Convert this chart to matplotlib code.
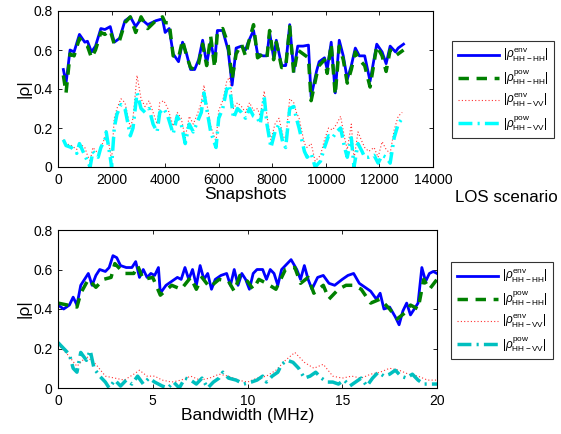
import matplotlib
matplotlib.use("Agg")
import matplotlib.pyplot as plt

plt.rcParams['font.family'] = ['Liberation Sans', 'DejaVu Sans']
plt.rcParams['mathtext.fontset'] = 'custom'
plt.rcParams['mathtext.rm'] = 'Liberation Sans'
plt.rcParams['mathtext.it'] = 'Liberation Sans:italic'

# ---------------- Top panel data (LOS, snapshots) ----------------
top_x = [200, 300, 450, 600, 800, 1000, 1100, 1250, 1400, 1600, 1750, 1950, 2100, 2300, 2500,
         2700, 2900, 3100, 3350, 3650, 3900, 4000, 4150, 4300, 4500, 4650, 4800, 4950, 5100,
         5250, 5400, 5550, 5700, 5850, 5950, 6150, 6350, 6500, 6650, 6850, 7000, 7100, 7300,
         7450, 7650, 7800, 7900, 8050, 8150, 8350, 8500, 8650, 8800, 8950, 9150, 9350, 9450,
         9650, 9750, 9950, 10050, 10200, 10350, 10500, 10650, 10800, 10950, 11100, 11250,
         11450, 11650, 11900, 12100, 12250, 12400, 12600, 12700, 12900]
top_env_hh = [0.50, 0.43, 0.60, 0.59, 0.68, 0.64, 0.645, 0.59, 0.62, 0.71, 0.705, 0.72, 0.64, 0.66, 0.75,
              0.77, 0.72, 0.76, 0.73, 0.75, 0.76, 0.69, 0.71, 0.58, 0.54, 0.64, 0.58, 0.50, 0.50,
              0.55, 0.65, 0.53, 0.64, 0.54, 0.70, 0.70, 0.60, 0.42, 0.61, 0.62, 0.60, 0.64, 0.70,
              0.58, 0.57, 0.57, 0.69, 0.56, 0.65, 0.52, 0.52, 0.73, 0.49, 0.62, 0.62, 0.625, 0.36,
              0.49, 0.54, 0.56, 0.50, 0.64, 0.38, 0.65, 0.57, 0.45, 0.52, 0.61, 0.57,
              0.57, 0.44, 0.63, 0.59, 0.53, 0.62, 0.59, 0.61, 0.63]
top_pow_hh = [0.47, 0.38, 0.58, 0.57, 0.66, 0.63, 0.62, 0.56, 0.60, 0.69, 0.68, 0.70, 0.63, 0.65, 0.74,
              0.77, 0.69, 0.77, 0.71, 0.75, 0.77, 0.74, 0.74, 0.57, 0.56, 0.65, 0.57, 0.51, 0.50,
              0.53, 0.63, 0.52, 0.67, 0.51, 0.69, 0.71, 0.63, 0.45, 0.58, 0.63, 0.57, 0.63, 0.73,
              0.56, 0.58, 0.56, 0.70, 0.55, 0.64, 0.51, 0.51, 0.72, 0.48, 0.60, 0.58, 0.56, 0.34,
              0.47, 0.52, 0.55, 0.48, 0.63, 0.37, 0.62, 0.55, 0.43, 0.50, 0.59, 0.55,
              0.52, 0.41, 0.62, 0.57, 0.49, 0.60, 0.57, 0.58, 0.60]

top_xv = [200, 300, 500, 700, 800, 1000, 1100, 1200, 1300, 1500, 1600, 1750, 1800, 1950, 2000,
          2100, 2200, 2350, 2500, 2700, 2800, 2950, 3100, 3250, 3400, 3550, 3700, 3800, 3950,
          4100, 4300, 4450, 4600, 4750, 4900, 5050, 5200, 5350, 5450, 5550, 5700, 5900, 6000,
          6150, 6300, 6400, 6550, 6700, 6850, 7000, 7150, 7300, 7450, 7550, 7700, 7800, 7950,
          8100, 8250, 8400, 8500, 8650, 8800, 8900, 9000, 9200, 9300, 9450, 9600, 9800, 9950,
          10100, 10250, 10400, 10550, 10700, 10800, 10950, 11050, 11200, 11350, 11450, 11600,
          11800, 11950, 12100, 12250, 12400, 12550, 12700, 12850]
top_env_hv = [0.14, 0.12, 0.11, 0.09, 0.12, 0.10, 0.06, 0.03, 0.10, 0.07, 0.10, 0.15, 0.19, 0.08, 0.03,
              0.25, 0.30, 0.35, 0.33, 0.20, 0.25, 0.47, 0.35, 0.31, 0.34, 0.28, 0.22, 0.33, 0.34,
              0.30, 0.21, 0.28, 0.25, 0.15, 0.26, 0.22, 0.27, 0.33, 0.42, 0.33, 0.21, 0.13, 0.29,
              0.34, 0.44, 0.46, 0.30, 0.33, 0.31, 0.28, 0.33, 0.29, 0.30, 0.26, 0.39, 0.26, 0.14,
              0.22, 0.25, 0.16, 0.14, 0.35, 0.33, 0.28, 0.25, 0.12, 0.10, 0.12, 0.03, 0.06, 0.14,
              0.20, 0.19, 0.22, 0.26, 0.15, 0.09, 0.22, 0.04, 0.18, 0.13, 0.10, 0.08,
              0.10, 0.05, 0.13, 0.09, 0.07, 0.19, 0.26, 0.28]
top_pow_hv = [0.14, 0.11, 0.10, 0.07, 0.12, 0.06, 0.03, 0.00, 0.08, 0.05, 0.10, 0.14, 0.18, 0.05, 0.00,
              0.20, 0.27, 0.32, 0.30, 0.16, 0.20, 0.38, 0.30, 0.28, 0.30, 0.22, 0.18, 0.28, 0.30,
              0.26, 0.17, 0.26, 0.22, 0.12, 0.22, 0.18, 0.23, 0.28, 0.38, 0.30, 0.18, 0.10, 0.25,
              0.30, 0.40, 0.42, 0.25, 0.30, 0.28, 0.25, 0.30, 0.26, 0.25, 0.22, 0.36, 0.22, 0.10,
              0.18, 0.22, 0.12, 0.10, 0.30, 0.31, 0.25, 0.20, 0.08, 0.05, 0.07, 0.00, 0.03, 0.10,
              0.16, 0.15, 0.18, 0.20, 0.10, 0.05, 0.15, 0.00, 0.12, 0.08, 0.05, 0.05,
              0.06, 0.02, 0.06, 0.05, 0.02, 0.15, 0.22, 0.25]

# ---------------- Bottom panel data (bandwidth) ----------------
bw_x_env = [0.0, 0.3, 0.6, 0.8, 1.0, 1.2, 1.4, 1.6, 1.8, 2.0, 2.2, 2.5, 2.7, 2.9, 3.1, 3.3, 3.6, 3.9,
            4.1, 4.3, 4.5, 4.7, 4.9, 5.1, 5.3, 5.4, 5.7, 6.0, 6.3, 6.5, 6.7, 6.9, 7.1, 7.3, 7.5,
            7.7, 7.9, 8.1, 8.3, 8.6, 8.9, 9.1, 9.3, 9.5, 9.7, 9.9, 10.1, 10.3, 10.5, 10.8, 11.0,
            11.2, 11.4, 11.6, 11.8, 12.0, 12.3, 12.6, 12.8, 13.0, 13.2, 13.4, 13.7, 14.0, 14.3,
            14.6, 15.0, 15.3, 15.6, 15.9, 16.2, 16.5, 16.8, 17.0, 17.2, 17.5, 17.8, 18.0, 18.2,
            18.4, 18.6, 18.8, 19.0, 19.2, 19.4, 19.6, 19.8, 20.0]
bw_env_hh = [0.42, 0.40, 0.42, 0.46, 0.42, 0.52, 0.55, 0.58, 0.52, 0.57, 0.60, 0.59, 0.61, 0.67, 0.66,
             0.62, 0.61, 0.61, 0.64, 0.56, 0.60, 0.56, 0.58, 0.57, 0.61, 0.48, 0.52, 0.54, 0.56,
             0.55, 0.61, 0.55, 0.60, 0.52, 0.62, 0.55, 0.58, 0.50, 0.55, 0.57, 0.58, 0.52, 0.60,
             0.52, 0.58, 0.55, 0.50, 0.58, 0.60, 0.60, 0.55, 0.60, 0.58, 0.52, 0.60, 0.62, 0.65,
             0.60, 0.55, 0.62, 0.55, 0.50, 0.56, 0.57, 0.53, 0.52, 0.55, 0.57, 0.58, 0.53, 0.51,
             0.49, 0.45, 0.48, 0.40, 0.41, 0.36, 0.32, 0.39, 0.43, 0.37, 0.40, 0.43, 0.61, 0.54,
             0.58, 0.59, 0.58]
bw_x_pow = [0.0, 0.5, 1.0, 1.2, 1.6, 2.0, 2.4, 2.8, 3.0, 3.5, 4.0, 4.2, 4.5, 5.0, 5.4, 6.0, 6.5,
            7.0, 7.3, 7.6, 8.0, 8.5, 9.0, 9.3, 9.6, 10.0, 10.3, 10.6, 11.0, 11.5, 12.0, 12.5,
            12.8, 13.2, 13.5, 14.0, 14.3, 14.8, 15.2, 15.6, 16.0, 16.5, 17.0, 17.5, 17.9, 18.3,
            18.6, 19.0, 19.3, 19.6, 20.0]
bw_pow_hh = [0.43, 0.42, 0.41, 0.48, 0.55, 0.51, 0.55, 0.56, 0.63, 0.58, 0.58, 0.62, 0.55, 0.56,
             0.47, 0.52, 0.50, 0.56, 0.50, 0.56, 0.51, 0.55, 0.54, 0.49, 0.57, 0.54, 0.50, 0.55,
             0.53, 0.50, 0.60, 0.61, 0.53, 0.56, 0.48, 0.52, 0.45, 0.50, 0.52, 0.52, 0.50, 0.43,
             0.45, 0.40, 0.35, 0.38, 0.42, 0.40, 0.55, 0.50, 0.55]

bw_x_hv_pow = [0.0, 0.3, 0.6, 0.8, 1.0, 1.2, 1.5, 1.7, 1.9, 2.2, 2.5, 2.7, 3.0, 3.3, 3.6, 3.9, 4.2,
               4.5, 4.8, 5.1, 5.5, 5.8, 6.1, 6.4, 6.7, 7.0, 7.3, 7.6, 7.9, 8.2, 8.5, 8.7, 9.0, 9.4,
               9.8, 10.2, 10.5, 10.8, 11.0, 11.3, 11.6, 11.8, 12.1, 12.4, 12.7, 13.0, 13.3, 13.6,
               13.9, 14.2, 14.5, 14.8, 15.1, 15.4, 15.7, 16.0, 16.3, 16.6, 16.9, 17.2, 17.5, 17.8,
               18.1, 18.4, 18.7, 19.0, 19.3, 19.6, 20.0]
bw_pow_hv = [0.23, 0.20, 0.17, 0.10, 0.08, 0.18, 0.14, 0.19, 0.10, 0.06, 0.03, 0.00, 0.04, 0.01,
             0.04, 0.02, 0.06, 0.02, 0.05, 0.03, 0.01, 0.00, 0.03, 0.00, 0.05, 0.04, 0.02, 0.05,
             0.00, 0.03, 0.05, 0.08, 0.05, 0.04, 0.02, 0.03, 0.04, 0.06, 0.03, 0.06, 0.08, 0.12,
             0.14, 0.13, 0.10, 0.05, 0.06, 0.08, 0.05, 0.03, 0.03, 0.02, 0.04, 0.01, 0.03, 0.05,
             0.01, 0.05, 0.08, 0.06, 0.07, 0.09, 0.06, 0.05, 0.07, 0.04, 0.02, 0.02, 0.02]
bw_x_hv_env = [0.0, 0.5, 1.0, 1.5, 2.0, 2.5, 3.0, 3.5, 4.0, 4.3, 4.7, 5.1, 5.5, 6.0, 6.5, 7.0, 7.5,
               8.0, 8.5, 9.0, 9.5, 10.0, 10.5, 11.0, 11.5, 12.0, 12.5, 13.0, 13.5, 14.0, 14.5,
               15.0, 15.5, 16.0, 16.5, 17.0, 17.5, 18.0, 18.5, 19.0, 19.5, 20.0]
bw_env_hv = [0.22, 0.17, 0.11, 0.16, 0.12, 0.06, 0.05, 0.04, 0.07, 0.09, 0.06, 0.06, 0.04, 0.03,
             0.04, 0.06, 0.04, 0.05, 0.07, 0.06, 0.04, 0.03, 0.05, 0.06, 0.09, 0.14, 0.18, 0.13,
             0.10, 0.12, 0.06, 0.05, 0.06, 0.05, 0.07, 0.08, 0.10, 0.09, 0.07, 0.06, 0.04, 0.04]

labels = [r'$|\rho^{\mathrm{env}}_{\mathrm{HH-HH}}|$',
          r'$|\rho^{\mathrm{pow}}_{\mathrm{HH-HH}}|$',
          r'$|\rho^{\mathrm{env}}_{\mathrm{HH-VV}}|$',
          r'$|\rho^{\mathrm{pow}}_{\mathrm{HH-VV}}|$']

fig = plt.figure(figsize=(5.61, 4.34), dpi=100)
W, H = 561, 434

def style(ax):
    ax.tick_params(direction='in', top=True, right=True, labelsize=10, length=3, width=0.6, pad=4)
    for s in ax.spines.values():
        s.set_linewidth(0.8)
    ax.set_ylabel('|ρ|', fontsize=12.5, labelpad=1)

def legend(ax, handles, anchor):
    lg = ax.legend(handles, labels, loc='upper left', bbox_to_anchor=anchor,
                   borderaxespad=0, fontsize=8.5, frameon=True, fancybox=False,
                   edgecolor='black', handlelength=3.5, borderpad=0.5,
                   labelspacing=0.38, handletextpad=0.3)
    lg.get_frame().set_linewidth(0.8)
    return lg

ax1 = fig.add_axes([58 / W, 1 - 167 / H, 375 / W, 156 / H])
l1, = ax1.plot(top_x, top_env_hh, color='#0000FF', lw=2.0, ls='-')
l2, = ax1.plot(top_x, top_pow_hh, color='#008000', lw=2.5, ls=(0, (3, 2.2)))
l3, = ax1.plot(top_xv, top_env_hv, color='#FF3030', lw=0.8, ls=(0, (1, 2)))
l4, = ax1.plot(top_xv, top_pow_hv, color='#00FFFF', lw=2.5, ls=(0, (4, 1.5, 0.6, 1.5)))
ax1.set_xlim(0, 14000)
ax1.set_ylim(0, 0.8)
ax1.set_xticks(range(0, 14001, 2000))
ax1.set_yticks([0, 0.2, 0.4, 0.6, 0.8])
ax1.set_yticklabels(['0', '0.2', '0.4', '0.6', '0.8'])
ax1.set_xlabel('Snapshots', fontsize=12.5, labelpad=0)
style(ax1)
legend(ax1, [l1, l2, l3, l4], ((452 - 58) / 375, 1 - (41 - 11) / 156))
fig.text(455 / W, 1 - 198 / H, 'LOS scenario', fontsize=12.2, va='center', ha='left')

ax2 = fig.add_axes([58 / W, 1 - 388 / H, 379 / W, 158 / H])
m1, = ax2.plot(bw_x_env, bw_env_hh, color='#0000FF', lw=2.0, ls='-')
m2, = ax2.plot(bw_x_pow, bw_pow_hh, color='#008000', lw=2.5, ls=(0, (3, 2.2)))
m3, = ax2.plot(bw_x_hv_env, bw_env_hv, color='#FF3030', lw=0.8, ls=(0, (1, 2)))
m4, = ax2.plot(bw_x_hv_pow, bw_pow_hv, color='#00BFBF', lw=2.5, ls=(0, (4, 1.5, 0.6, 1.5)))
ax2.set_xlim(0, 20)
ax2.set_ylim(0, 0.8)
ax2.set_xticks([0, 5, 10, 15, 20])
ax2.set_yticks([0, 0.2, 0.4, 0.6, 0.8])
ax2.set_yticklabels(['0', '0.2', '0.4', '0.6', '0.8'])
ax2.set_xlabel('Bandwidth (MHz)', fontsize=12.5, labelpad=0)
style(ax2)
legend(ax2, [m1, m2, m3, m4], ((451 - 58) / 379, 1 - (262 - 230) / 158))

fig.savefig('out.png', dpi=100)
